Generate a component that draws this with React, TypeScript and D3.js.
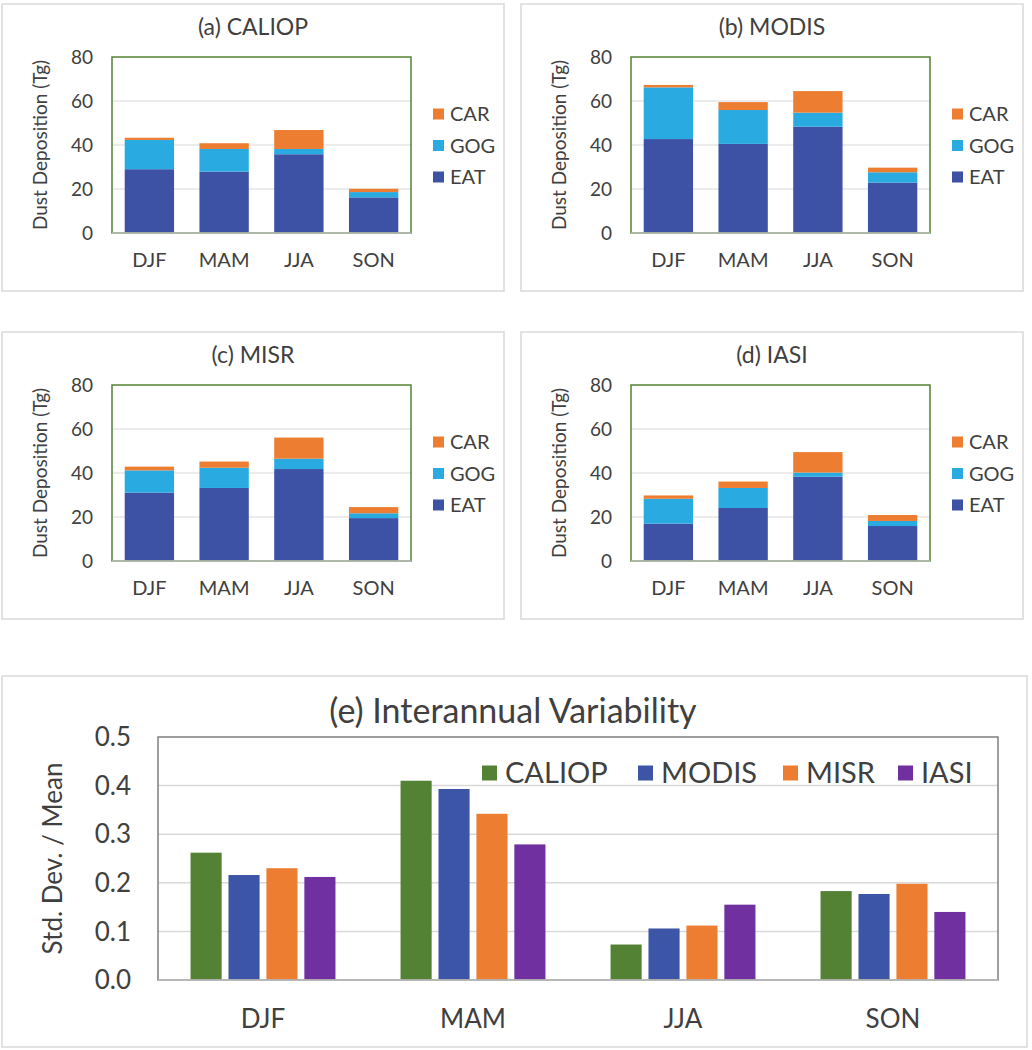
import React from "react";
import * as d3 from "d3";

const seasons = ["DJF", "MAM", "JJA", "SON"];
const components = ["EAT", "GOG", "CAR"];
const componentColors = ["#3D52A5", "#29ABE2", "#ED7D31"];

const caliopEAT = [29.0, 27.9, 35.8, 16.2];
const caliopGOG = [13.3, 10.3, 2.4, 2.4];
const caliopCAR = [1.0, 2.6, 8.6, 1.5];

const modisEAT = [42.7, 40.5, 48.3, 22.9];
const modisGOG = [23.5, 15.4, 6.4, 4.7];
const modisCAR = [1.1, 3.6, 9.8, 2.1];

const misrEAT = [31.1, 33.2, 41.8, 19.5];
const misrGOG = [10.1, 9.2, 4.7, 2.2];
const misrCAR = [1.7, 2.8, 9.6, 2.8];

const iasiEAT = [17.0, 24.1, 38.3, 15.9];
const iasiGOG = [11.3, 9.1, 1.9, 2.3];
const iasiCAR = [1.5, 2.9, 9.3, 2.7];

const depTicks = [0, 20, 40, 60, 80];

const sensors = ["CALIOP", "MODIS", "MISR", "IASI"];
const sensorColors = ["#548235", "#3D55A6", "#ED7D31", "#7030A0"];
const varCALIOP = [0.262, 0.41, 0.073, 0.183];
const varMODIS = [0.216, 0.393, 0.106, 0.177];
const varMISR = [0.23, 0.342, 0.112, 0.198];
const varIASI = [0.212, 0.279, 0.155, 0.14];
const varTicks = [0, 0.1, 0.2, 0.3, 0.4, 0.5];

const FONT = "Lato, 'Open Sans', sans-serif";
const TEXT = "#404040";

type PanelProps = {
  x: number;
  y: number;
  title: string;
  eat: number[];
  gog: number[];
  car: number[];
};

function StackedPanel({ x, y, title, eat, gog, car }: PanelProps) {
  const W = 502;
  const H = 287;
  const pl = 110;
  const pt = 53;
  const pw = 299;
  const ph = 176;
  const xs = d3.scaleBand<string>().domain(seasons).range([0, pw]).paddingInner(0.34).paddingOuter(0.17);
  const ys = d3.scaleLinear().domain([0, 80]).range([ph, 0]);
  const rows = seasons.map((s, i) => ({ season: s, EAT: eat[i], GOG: gog[i], CAR: car[i] }));
  const stack = d3.stack<any>().keys(components)(rows);
  return (
    <g transform={`translate(${x},${y})`}>
      <rect x={0} y={0} width={W} height={H} fill="#fff" stroke="#d9d9d9" strokeWidth={1.5} />
      <text x={W / 2} y={31} textAnchor="middle" fontSize={23} fill={TEXT} fontFamily={FONT}>
        {title}
      </text>
      <g transform={`translate(${pl},${pt})`}>
        {depTicks.slice(1, -1).map((t) => (
          <line key={t} x1={0} x2={pw} y1={ys(t)} y2={ys(t)} stroke="#d9d9d9" strokeWidth={1.2} />
        ))}
        {stack.map((layer, li) => (
          <g key={components[li]} fill={componentColors[li]}>
            {layer.map((d, i) => (
              <rect
                key={i}
                x={xs(seasons[i])}
                width={xs.bandwidth()}
                y={ys(d[1])}
                height={ys(d[0]) - ys(d[1])}
              />
            ))}
          </g>
        ))}
        <rect x={0} y={0} width={pw} height={ph} fill="none" stroke="#548235" strokeWidth={1.5} />
        <line x1={0} x2={pw} y1={ph} y2={ph} stroke="#bfbfbf" strokeWidth={1.5} />
        {depTicks.map((t) => (
          <text key={t} x={-19} y={ys(t)} dy="0.35em" textAnchor="end" fontSize={19} fill={TEXT} fontFamily={FONT}>
            {t}
          </text>
        ))}
        {seasons.map((s) => (
          <text key={s} x={(xs(s) as number) + xs.bandwidth() / 2} y={ph + 34} textAnchor="middle" fontSize={20} fill={TEXT} fontFamily={FONT}>
            {s}
          </text>
        ))}
        <text
          transform={`translate(${-72},${ph / 2}) rotate(-90)`}
          textAnchor="middle"
          dy="0.35em"
          fontSize={19}
          fill={TEXT}
          fontFamily={FONT}
        >
          Dust Deposition (Tg)
        </text>
        {["CAR", "GOG", "EAT"].map((c, i) => {
          const ci = components.indexOf(c);
          const cy = 57 + i * 31.5;
          return (
            <g key={c}>
              <rect x={pw + 22} y={cy - 5.5} width={11} height={11} fill={componentColors[ci]} />
              <text x={pw + 39} y={cy} dy="0.35em" fontSize={20} fill={TEXT} fontFamily={FONT}>
                {c}
              </text>
            </g>
          );
        })}
      </g>
    </g>
  );
}

function VariabilityPanel() {
  const x = 2;
  const y = 676;
  const W = 1025;
  const H = 371;
  const pl = 156;
  const pt = 61;
  const pw = 840;
  const ph = 243;
  const series = [varCALIOP, varMODIS, varMISR, varIASI];
  const x0 = d3.scaleBand<string>().domain(seasons).range([0, pw]).paddingInner(0.31).paddingOuter(0.155);
  const x1 = d3.scaleBand<string>().domain(sensors).range([0, x0.bandwidth()]).paddingInner(0.18).paddingOuter(0);
  const ys = d3.scaleLinear().domain([0, 0.5]).range([ph, 0]);
  const legendX = [324, 480, 625, 740];
  return (
    <g transform={`translate(${x},${y})`}>
      <rect x={0} y={0} width={W} height={H} fill="#fff" stroke="#d9d9d9" strokeWidth={1.5} />
      <text x={511} y={47} textAnchor="middle" fontSize={34} fill={TEXT} fontFamily={FONT}>
        (e) Interannual Variability
      </text>
      <g transform={`translate(${pl},${pt})`}>
        {varTicks.slice(1, -1).map((t) => (
          <line key={t} x1={0} x2={pw} y1={ys(t)} y2={ys(t)} stroke="#d9d9d9" strokeWidth={1.5} />
        ))}
        {seasons.map((s, si) => (
          <g key={s} transform={`translate(${x0(s)},0)`}>
            {sensors.map((sn, k) => (
              <rect
                key={sn}
                x={x1(sn)}
                width={x1.bandwidth()}
                y={ys(series[k][si])}
                height={ys(0) - ys(series[k][si])}
                fill={sensorColors[k]}
              />
            ))}
          </g>
        ))}
        <rect x={0} y={0} width={pw} height={ph} fill="none" stroke="#7f7f7f" strokeWidth={1.5} />
        <line x1={0} x2={pw} y1={ph} y2={ph} stroke="#bfbfbf" strokeWidth={1.5} />
        {varTicks.map((t) => (
          <text key={t} x={-27} y={ys(t)} dy="0.35em" textAnchor="end" fontSize={26} fill={TEXT} fontFamily={FONT}>
            {d3.format(".1f")(t)}
          </text>
        ))}
        {seasons.map((s) => (
          <text key={s} x={(x0(s) as number) + x0.bandwidth() / 2} y={ph + 48} textAnchor="middle" fontSize={26} fill={TEXT} fontFamily={FONT}>
            {s}
          </text>
        ))}
        {sensors.map((sn, k) => (
          <g key={sn}>
            <rect x={legendX[k]} y={36 - 7.5} width={15} height={15} fill={sensorColors[k]} />
            <text x={legendX[k] + 23} y={36} dy="0.35em" fontSize={29} fill={TEXT} fontFamily={FONT}>
              {sn}
            </text>
          </g>
        ))}
      </g>
      <text
        transform={`translate(${51},${pt + ph / 2}) rotate(-90)`}
        textAnchor="middle"
        dy="0.35em"
        fontSize={26}
        fill={TEXT}
        fontFamily={FONT}
      >
        Std. Dev. / Mean
      </text>
    </g>
  );
}

export default function App() {
  return (
    <svg width={1032} height={1050} style={{ position: "absolute", left: 0, top: 0, background: "#fff" }}>
      <rect x={0} y={0} width={1032} height={1050} fill="#fff" />
      <StackedPanel x={2} y={4} title="(a) CALIOP" eat={caliopEAT} gog={caliopGOG} car={caliopCAR} />
      <StackedPanel x={521} y={4} title="(b) MODIS" eat={modisEAT} gog={modisGOG} car={modisCAR} />
      <StackedPanel x={2} y={332} title="(c) MISR" eat={misrEAT} gog={misrGOG} car={misrCAR} />
      <StackedPanel x={521} y={332} title="(d) IASI" eat={iasiEAT} gog={iasiGOG} car={iasiCAR} />
      <VariabilityPanel />
    </svg>
  );
}
